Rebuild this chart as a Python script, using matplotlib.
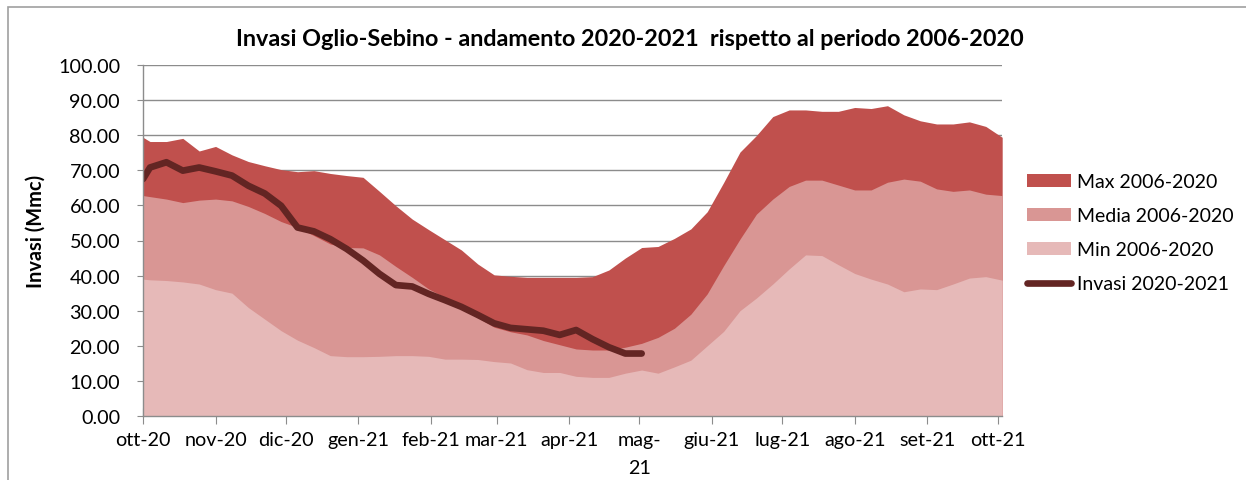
import numpy as np
import pandas as pd
import matplotlib
matplotlib.use('Agg')
import matplotlib.pyplot as plt
from matplotlib.patches import Rectangle

# weekly readings (sundays) plus the first of october
dates = [pd.Timestamp('2020-10-01')] + list(pd.date_range('2020-10-04', periods=53, freq='7D'))

max_vals = [79.4, 78.2, 78.2, 79.1, 75.5, 76.8, 74.4, 72.5, 71.3, 70.2,
            69.6, 69.9, 69.1, 68.5, 68.0, 64.0, 59.9, 56.1, 53.1, 50.2,
            47.3, 43.3, 40.2, 39.8, 39.5, 39.5, 39.5, 39.5, 39.7, 41.6,
            45.0, 48.0, 48.3, 50.6, 53.3, 58.2, 66.5, 75.2, 79.9, 85.3,
            87.2, 87.2, 86.8, 86.8, 87.9, 87.6, 88.4, 85.8, 84.1, 83.2,
            83.2, 83.8, 82.5, 79.4]

media_vals = [62.8, 62.5, 61.8, 60.8, 61.5, 61.8, 61.3, 59.7, 57.7, 55.4,
              53.7, 51.4, 49.0, 48.0, 47.9, 45.9, 42.6, 39.5, 36.2, 33.8,
              30.5, 28.0, 25.3, 24.0, 23.1, 21.5, 20.3, 19.1, 18.8, 18.8,
              19.6, 20.7, 22.4, 25.0, 29.0, 34.8, 42.8, 50.4, 57.5, 61.8,
              65.4, 67.2, 67.2, 65.8, 64.4, 64.4, 66.6, 67.5, 66.9, 64.7,
              64.0, 64.4, 63.2, 62.8]

min_vals = [39.0, 38.8, 38.6, 38.2, 37.6, 36.0, 35.0, 30.9, 27.6, 24.3,
            21.6, 19.5, 17.2, 16.9, 16.9, 17.0, 17.2, 17.2, 17.0, 16.2,
            16.2, 16.1, 15.5, 15.1, 13.2, 12.4, 12.4, 11.3, 11.0, 11.0,
            12.2, 13.1, 12.2, 14.0, 15.9, 20.0, 24.1, 30.0, 33.6, 37.6,
            41.9, 45.9, 45.7, 43.1, 40.6, 39.0, 37.6, 35.4, 36.2, 36.0,
            37.6, 39.3, 39.7, 38.7]

invasi_vals = [67.5, 70.8, 72.3, 69.9, 70.8, 69.7, 68.5, 65.6, 63.4, 59.9,
               53.7, 52.6, 50.4, 47.6, 44.3, 40.5, 37.3, 36.9, 34.8, 33.0,
               31.1, 28.8, 26.4, 25.1, 24.7, 24.3, 23.1, 24.5, 21.9, 19.6,
               17.8, 17.8]

month_ticks = pd.date_range('2020-10-01', periods=13, freq='MS')
month_labels = ['ott-20', 'nov-20', 'dic-20', 'gen-21', 'feb-21', 'mar-21', 'apr-21',
                'mag-\n21', 'giu-21', 'lug-21', 'ago-21', 'set-21', 'ott-21']

plt.rcParams['font.family'] = ['Lato', 'DejaVu Sans']

W, H = 1246, 481
fig = plt.figure(figsize=(W / 100, H / 100), dpi=100)
ax = fig.add_axes([143 / W, (H - 417) / H, (1002.2 - 143) / W, (417 - 66) / H])

# overlapping areas, max behind, min in front
ax.fill_between(dates, 0, max_vals, color='#C0504D', lw=0, label='Max 2006-2020', zorder=2)
ax.fill_between(dates, 0, media_vals, color='#D99694', lw=0, label='Media 2006-2020', zorder=3)
ax.fill_between(dates, 0, min_vals, color='#E6B9B8', lw=0, label='Min 2006-2020', zorder=4)
ax.plot(dates[:len(invasi_vals)], invasi_vals, color='#632523', lw=4.8,
        solid_capstyle='round', solid_joinstyle='round', label='Invasi 2020-2021', zorder=5)

ax.set_xlim(pd.Timestamp('2020-10-01'), pd.Timestamp('2021-10-03'))
ax.set_ylim(0, 100)
ax.set_yticks(np.arange(0, 101, 10))
ax.set_yticklabels(['%.2f' % v for v in np.arange(0, 101, 10)])
ax.set_xticks(month_ticks)
ax.set_xticklabels(month_labels, linespacing=1.75, va='top')

ax.grid(axis='y', color='#8c8c8c', lw=1, zorder=1)
ax.set_axisbelow(True)
for s in ['top', 'right']:
    ax.spines[s].set_visible(False)
for s in ['left', 'bottom']:
    ax.spines[s].set_color('#8c8c8c')
    ax.spines[s].set_linewidth(1)
    ax.spines[s].set_zorder(6)
ax.tick_params(axis='y', length=4, color='#8c8c8c', labelsize=14.2, pad=12.5)
ax.tick_params(axis='x', direction='inout', length=12, color='#8c8c8c', labelsize=14.2, pad=5)

ax.set_ylabel('Invasi (Mmc)', fontsize=14.4, weight='bold')
ax.yaxis.set_label_coords(46 / W, 1 - 231 / H, transform=fig.transFigure)
fig.text(630 / W, 1 - 40 / H, 'Invasi Oglio-Sebino - andamento 2020-2021  rispetto al periodo 2006-2020',
         ha='center', va='center', fontsize=16.8, weight='bold')

leg = fig.legend(loc='upper left', bbox_to_anchor=(1027 / W, 1 - 174 / H), frameon=False,
                 fontsize=14, handlelength=2.27, handleheight=0.65, handletextpad=0.3,
                 labelspacing=0.88, borderaxespad=0, borderpad=0)

# chart border (only top and left edges fall inside the picture)
fig.patches.append(Rectangle((8 / W, -0.1), 1.2, (H - 8) / H + 0.1, transform=fig.transFigure,
                             fill=False, edgecolor='#a0a0a0', lw=1.2))

fig.savefig('out.png', dpi=100)
